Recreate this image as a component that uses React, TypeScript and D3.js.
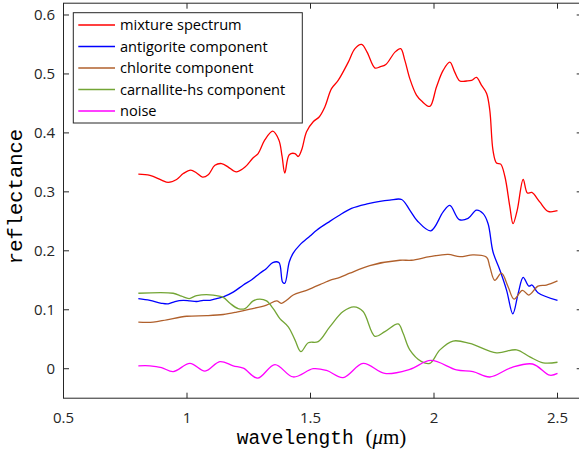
import React from "react";
import * as d3 from "d3";

// ---- data (wavelength in µm, reflectance) ----
const mixtureX = [0.803,0.85,0.897,0.924,0.958,0.985,1.015,1.039,1.063,1.086,1.113,1.14,1.167,1.187,1.201,1.235,1.268,1.288,1.315,1.347,1.372,1.385,1.396,1.414,1.437,1.45,1.464,1.484,1.511,1.535,1.558,1.585,1.612,1.653,1.68,1.707,1.729,1.761,1.781,1.805,1.842,1.865,1.882,1.902,1.929,1.95,1.983,2.01,2.037,2.064,2.084,2.105,2.132,2.152,2.172,2.192,2.213,2.226,2.239,2.253,2.27,2.287,2.307,2.32,2.337,2.361,2.378,2.396,2.428,2.462,2.5];
const mixtureY = [0.33,0.328,0.32,0.316,0.321,0.331,0.337,0.332,0.325,0.329,0.345,0.348,0.342,0.336,0.334,0.342,0.358,0.365,0.388,0.403,0.388,0.36,0.332,0.363,0.365,0.36,0.371,0.402,0.419,0.427,0.444,0.475,0.489,0.52,0.543,0.55,0.537,0.51,0.512,0.516,0.537,0.543,0.523,0.492,0.464,0.454,0.445,0.478,0.506,0.52,0.503,0.488,0.488,0.489,0.494,0.481,0.467,0.438,0.37,0.349,0.347,0.326,0.275,0.246,0.269,0.321,0.298,0.299,0.283,0.267,0.268];

const antigoriteX = [0.803,0.85,0.897,0.924,0.951,0.985,1.012,1.039,1.066,1.093,1.12,1.147,1.187,1.228,1.262,1.295,1.322,1.347,1.372,1.387,1.396,1.414,1.43,1.457,1.498,1.525,1.578,1.612,1.666,1.734,1.781,1.821,1.869,1.902,1.932,1.987,2.037,2.064,2.102,2.138,2.172,2.199,2.219,2.239,2.267,2.294,2.319,2.341,2.361,2.384,2.397,2.421,2.5];
const antigoriteY = [0.119,0.116,0.111,0.11,0.114,0.116,0.115,0.114,0.116,0.116,0.119,0.122,0.13,0.142,0.151,0.162,0.17,0.18,0.18,0.147,0.145,0.181,0.196,0.21,0.225,0.235,0.25,0.259,0.272,0.28,0.284,0.286,0.287,0.269,0.251,0.234,0.266,0.277,0.253,0.255,0.269,0.263,0.246,0.198,0.167,0.133,0.093,0.128,0.155,0.14,0.142,0.129,0.116];

const chloriteX = [0.803,0.863,0.918,0.999,1.08,1.147,1.201,1.255,1.322,1.363,1.383,1.403,1.43,1.484,1.551,1.578,1.619,1.659,1.74,1.862,1.909,1.983,2.057,2.105,2.158,2.213,2.226,2.246,2.273,2.3,2.324,2.358,2.384,2.421,2.455,2.5];
const chloriteY = [0.079,0.079,0.083,0.089,0.09,0.092,0.096,0.101,0.108,0.115,0.111,0.116,0.125,0.133,0.145,0.15,0.155,0.162,0.175,0.184,0.184,0.19,0.194,0.19,0.193,0.189,0.173,0.15,0.162,0.139,0.118,0.133,0.125,0.14,0.142,0.149];

const carnalliteX = [0.803,0.944,0.978,1.009,1.039,1.106,1.147,1.174,1.207,1.235,1.268,1.295,1.322,1.349,1.376,1.41,1.437,1.461,1.491,1.531,1.578,1.632,1.676,1.713,1.761,1.801,1.855,1.875,1.902,1.95,1.983,2.024,2.077,2.145,2.253,2.334,2.388,2.442,2.5];
const carnalliteY = [0.128,0.128,0.123,0.119,0.124,0.125,0.121,0.111,0.102,0.102,0.115,0.118,0.115,0.102,0.085,0.071,0.049,0.029,0.044,0.046,0.071,0.097,0.105,0.097,0.055,0.063,0.076,0.06,0.032,0.012,0.009,0.032,0.047,0.043,0.027,0.032,0.02,0.01,0.011];

const noiseX = [0.803,0.85,0.897,0.944,1.012,1.073,1.133,1.187,1.228,1.286,1.356,1.43,1.511,1.565,1.632,1.713,1.801,1.902,1.987,2.091,2.158,2.226,2.314,2.399,2.469,2.5];
const noiseY = [0.005,0.005,0.002,-0.005,0.009,-0.004,0.012,0.005,0.001,-0.016,0.007,-0.014,0.0,-0.003,-0.015,0.009,-0.008,-0.001,0.014,-0.002,-0.005,-0.014,0.002,0.008,-0.011,-0.008];

const seriesNames = ["mixture spectrum", "antigorite component", "chlorite component", "carnallite-hs component", "noise"];
const seriesColors = ["#ff0000", "#0000ff", "#b0602c", "#73a535", "#ff00ff"];
const seriesXs = [mixtureX, antigoriteX, chloriteX, carnalliteX, noiseX];
const seriesYs = [mixtureY, antigoriteY, chloriteY, carnalliteY, noiseY];

const xTicks = [0.5, 1, 1.5, 2, 2.5];
const yTicks = [0, 0.1, 0.2, 0.3, 0.4, 0.5, 0.6];
const xDomain = [0.5, 2.6];
const yDomain = [-0.05, 0.62];

export default function App() {
  const W = 579, H = 458;
  const left = 63.5, right = 582.2, top = 3.2, bottom = 398.2;
  const x = d3.scaleLinear().domain(xDomain).range([left, right]);
  const y = d3.scaleLinear().domain(yDomain).range([bottom, top]);
  const axisColor = "#262626";
  const tickLen = 5.5;
  const line = d3.line<[number, number]>().x(d => x(d[0])).y(d => y(d[1])).curve(d3.curveCatmullRom.alpha(0.5));

  return (
    <svg width={W} height={H} style={{ position: "absolute", left: 0, top: 0, background: "#fff" }}>
      <rect x={0} y={0} width={W} height={H} fill="#fff" />
      {/* data lines */}
      {seriesXs.map((xs, i) => (
        <path key={i} d={line(xs.map((v, j) => [v, seriesYs[i][j]]) as [number, number][]) || ""}
          fill="none" stroke={seriesColors[i]} strokeWidth={1.3} strokeLinejoin="round" />
      ))}
      {/* axes box */}
      <rect x={left} y={top} width={right - left} height={bottom - top} fill="none" stroke={axisColor} strokeWidth={1} />
      {xTicks.map(t => (
        <g key={"xt" + t}>
          <line x1={x(t)} x2={x(t)} y1={bottom} y2={bottom - tickLen} stroke={axisColor} />
          <line x1={x(t)} x2={x(t)} y1={top} y2={top + tickLen} stroke={axisColor} />
          <text x={x(t)} y={422.5} textAnchor="middle" fontFamily="Open Sans" fontSize={15} fill={axisColor}>{String(t)}</text>
        </g>
      ))}
      {yTicks.map(t => (
        <g key={"yt" + t}>
          <line x1={left} x2={left + tickLen} y1={y(t)} y2={y(t)} stroke={axisColor} />
          <line x1={right} x2={right - tickLen} y1={y(t)} y2={y(t)} stroke={axisColor} />
          <text x={55} y={y(t) + 5.3} textAnchor="end" fontFamily="Open Sans" fontSize={15} fill={axisColor}>{String(t)}</text>
        </g>
      ))}
      {/* axis labels */}
      <text transform="translate(21.5,196.5) rotate(-90)" textAnchor="middle" fontFamily="Liberation Mono" fontSize={20.5} fill="#000">reflectance</text>
      <text x={321.5} y={443.5} textAnchor="middle" fill="#000">
        <tspan fontFamily="Liberation Mono" fontSize={19.5}>wavelength </tspan>
        <tspan fontFamily="Liberation Serif" fontSize={21}>(</tspan>
        <tspan fontFamily="Liberation Serif" fontSize={21} fontStyle="italic">μ</tspan>
        <tspan fontFamily="Liberation Serif" fontSize={21}>m)</tspan>
      </text>
      {/* legend */}
      <rect x={73.3} y={12.7} width={229} height={110.3} fill="#fff" stroke={axisColor} strokeWidth={1} />
      {seriesNames.map((name, i) => {
        const ry = 25 + i * 21.5;
        return (
          <g key={name}>
            <line x1={78.3} x2={115} y1={ry} y2={ry} stroke={seriesColors[i]} strokeWidth={1.3} />
            <text x={120} y={ry + 5.2} fontFamily="Open Sans" fontSize={14.6} fill="#000">{name}</text>
          </g>
        );
      })}
    </svg>
  );
}
